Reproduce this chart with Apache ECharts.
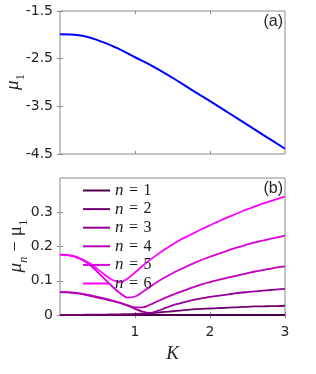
<!DOCTYPE html>
<html>
<head>
<meta charset="utf-8">
<script src="https://cdn.jsdelivr.net/npm/echarts@6/dist/echarts.min.js"></script>
<style>html,body{margin:0;padding:0;background:#fff}#c{width:316px;height:374px}</style>
</head>
<body>
<div id="c"></div>
<script>
// ---- data ----
var kTop = [0, 0.25, 0.5, 0.75, 1.0, 1.25, 1.5, 1.75, 2.0, 2.25, 2.5, 2.75, 3.0];
var mu1 = [-1.99, -2.01, -2.11, -2.27, -2.47, -2.67, -2.90, -3.15, -3.39, -3.64, -3.89, -4.14, -4.39];

var kBot = [0, 0.1, 0.2, 0.3, 0.4, 0.5, 0.6, 0.7, 0.8, 0.9, 1.0, 1.1, 1.2, 1.3, 1.4, 1.5,
            1.6, 1.7, 1.8, 1.9, 2.0, 2.1, 2.2, 2.3, 2.4, 2.5, 2.6, 2.7, 2.8, 2.9, 3.0];
var d1 = [0, 0, 0, 0, 0, 0, 0, 0, 0, 0, 0, 0, 0, 0, 0, 0,
          0, 0, 0, 0, 0, 0, 0, 0, 0, 0, 0, 0, 0, 0, 0];
var d2 = [0, 0.0002, 0.0004, 0.0006, 0.0008, 0.001, 0.0013, 0.0016, 0.002, 0.0025, 0.003, 0.004, 0.005, 0.007, 0.009, 0.011,
          0.013, 0.015, 0.017, 0.018, 0.019, 0.020, 0.021, 0.022, 0.023, 0.024, 0.025, 0.025, 0.026, 0.026, 0.027];
var d3 = [0.066, 0.066, 0.064, 0.061, 0.056, 0.051, 0.046, 0.041, 0.035, 0.027, 0.018, 0.010, 0.006, 0.012, 0.020, 0.028,
          0.034, 0.040, 0.045, 0.049, 0.053, 0.056, 0.059, 0.062, 0.065, 0.067, 0.069, 0.071, 0.073, 0.075, 0.076];
var d4 = [0.067, 0.067, 0.065, 0.062, 0.058, 0.053, 0.048, 0.042, 0.036, 0.029, 0.022, 0.022, 0.030, 0.040, 0.050, 0.059,
          0.067, 0.075, 0.083, 0.090, 0.096, 0.102, 0.107, 0.112, 0.117, 0.122, 0.127, 0.131, 0.135, 0.139, 0.142];
var d5 = [0.176, 0.175, 0.170, 0.161, 0.146, 0.126, 0.104, 0.083, 0.064, 0.051, 0.054, 0.067, 0.082, 0.097, 0.110, 0.122,
          0.133, 0.143, 0.153, 0.162, 0.170, 0.178, 0.185, 0.193, 0.199, 0.206, 0.212, 0.217, 0.222, 0.227, 0.232];
var d6 = [0.176, 0.175, 0.171, 0.162, 0.150, 0.134, 0.117, 0.102, 0.095, 0.106, 0.124, 0.143, 0.161, 0.177, 0.192, 0.206,
          0.219, 0.230, 0.241, 0.252, 0.262, 0.272, 0.282, 0.291, 0.300, 0.309, 0.317, 0.325, 0.332, 0.339, 0.346];
var seriesNames = ['n = 1', 'n = 2', 'n = 3', 'n = 4', 'n = 5', 'n = 6'];
var seriesData = [d1, d2, d3, d4, d5, d6];
var colors = ['#4d004d', '#730073', '#940094', '#b800b8', '#db00db', '#ff00ff'];

var topTicksY = [-4.5, -3.5, -2.5, -1.5];
var botTicksY = [0, 0.1, 0.2, 0.3];
var botTicksX = [1, 2, 3];

function pairs(xs, ys) { return xs.map(function (x, i) { return [x, ys[i]]; }); }

var frame = '#8a8a8a';
var txt = '#262626';
var tickStyle = { show: true, inside: true, length: 3, lineStyle: { color: frame } };
var lblFont = { color: txt, fontSize: 14, fontFamily: 'DejaVu Sans' };
var serif = 'Liberation Serif';

function xAx(grid, pos, labels, ticks, extra) {
  var a = {
    type: 'value', gridIndex: grid, position: pos, min: 0, max: 3,
    axisLine: { show: false }, splitLine: { show: false },
    axisTick: Object.assign({}, tickStyle, { customValues: ticks }),
    axisLabel: labels ? Object.assign({ margin: 10, customValues: ticks }, lblFont) : { show: false }
  };
  return Object.assign(a, extra || {});
}
function yAx(grid, pos, min, max, labels, ticks) {
  return {
    type: 'value', gridIndex: grid, position: pos, min: min, max: max,
    axisLine: { show: false }, splitLine: { show: false },
    axisTick: Object.assign({}, tickStyle, { customValues: ticks }),
    axisLabel: labels ? Object.assign({ margin: 7, customValues: ticks }, lblFont) : { show: false }
  };
}

var nameRich = {
  m: { fontFamily: serif, fontStyle: 'italic', fontSize: 19, fill: txt, lineHeight: 22 },
  s: { fontFamily: serif, fontStyle: 'italic', fontSize: 13, fill: txt, verticalAlign: 'bottom', padding: [0, 0, -3, 0] },
  r: { fontFamily: serif, fontSize: 13, fill: txt, verticalAlign: 'bottom', padding: [0, 0, -3, 0] },
  o: { fontFamily: serif, fontSize: 19, fill: txt, lineHeight: 22 }
};

var series = [{
  type: 'line', xAxisIndex: 0, yAxisIndex: 0, data: pairs(kTop, mu1), smooth: 0.4,
  symbol: 'none', lineStyle: { color: '#0000ff', width: 2 }, itemStyle: { color: '#0000ff' }, silent: true
}];
seriesNames.forEach(function (nm, i) {
  series.push({
    name: nm, type: 'line', xAxisIndex: 2, yAxisIndex: 2, data: pairs(kBot, seriesData[i]),
    smooth: 0.3, symbol: 'none', lineStyle: { color: colors[i], width: 1.8 },
    itemStyle: { color: colors[i] }, silent: true, z: 3
  });
});

var option = {
  animation: false,
  backgroundColor: '#fff',
  title: [
    { text: '(a)', right: 33, top: 14, padding: 0, textStyle: { fontSize: 16, fontWeight: 'normal', color: txt, fontFamily: 'Liberation Sans' } },
    { text: '(b)', right: 33, top: 181, padding: 0, textStyle: { fontSize: 16, fontWeight: 'normal', color: txt, fontFamily: 'Liberation Sans' } }
  ],
  graphic: [
    { type: 'text', x: 13, y: 82, rotation: Math.PI / 2, silent: true,
      style: { text: '{m|μ}{r|1}', rich: nameRich, align: 'center', verticalAlign: 'middle' } },
    { type: 'text', x: 16, y: 246, rotation: Math.PI / 2, silent: true,
      style: { text: '{m|μ}{s|n}{o| − μ}{r|1}', rich: nameRich, align: 'center', verticalAlign: 'middle' } }
  ],
  grid: [
    { left: 60, top: 11, width: 225, height: 143, show: true, borderColor: frame, borderWidth: 1, backgroundColor: 'transparent' },
    { left: 60, top: 178, width: 225, height: 137, show: true, borderColor: frame, borderWidth: 1, backgroundColor: 'transparent' }
  ],
  xAxis: [
    xAx(0, 'bottom', false, [1, 2]),
    xAx(0, 'top', false, [1, 2]),
    xAx(1, 'bottom', true, botTicksX, {
      name: '{k|K}', nameLocation: 'middle', nameGap: 29,
      nameTextStyle: { rich: { k: { fontFamily: serif, fontStyle: 'italic', fontSize: 19, color: txt } } }
    }),
    xAx(1, 'top', false, botTicksX)
  ],
  yAxis: [
    yAx(0, 'left', -4.5, -1.5, true, topTicksY),
    yAx(0, 'right', -4.5, -1.5, false, topTicksY),
    yAx(1, 'left', 0, 0.4, true, botTicksY),
    yAx(1, 'right', 0, 0.4, false, botTicksY)
  ],
  legend: {
    orient: 'vertical', left: 83, top: 182, padding: 0,
    icon: 'rect', itemWidth: 27, itemHeight: 2, itemGap: 1.6,
    data: seriesNames,
    formatter: function (name) { return '{i|n} {e|=} ' + name.slice(4); },
    textStyle: {
      fontFamily: serif, fontSize: 16, color: '#1a1a1a', lineHeight: 16,
      rich: {
        i: { fontFamily: serif, fontStyle: 'italic', fontSize: 17, color: '#1a1a1a', lineHeight: 16 },
        e: { fontFamily: serif, fontSize: 16, color: '#1a1a1a', lineHeight: 16, padding: [0, 1.5] }
      }
    },
    selectedMode: false
  },
  series: series
};
var chart = echarts.init(document.getElementById('c'), null, { renderer: 'canvas' });
chart.setOption(option);
</script>
</body>
</html>
